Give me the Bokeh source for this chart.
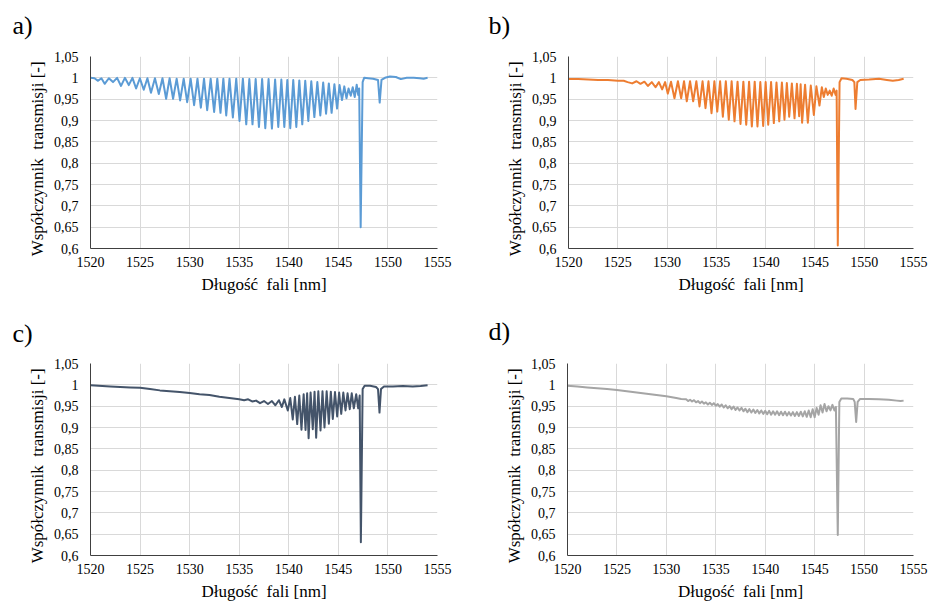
from bokeh.plotting import figure
from bokeh.layouts import column, row
from bokeh.models import Range1d, FixedTicker, Title
from bokeh.embed import file_html
from bokeh.resources import INLINE

# ---------------- data ----------------
x_ticks = [1520, 1525, 1530, 1535, 1540, 1545, 1550, 1555]
y_ticks = [0.6, 0.65, 0.7, 0.75, 0.8, 0.85, 0.9, 0.95, 1.0, 1.05]
y_tick_labels = ["0,6", "0,65", "0,7", "0,75", "0,8", "0,85", "0,9", "0,95", "1", "1,05"]
x_title = "Długość\u00a0 fali [nm]"
y_title = "Współczynnik\u00a0 transmisji [-]\u00a0\u00a0\u00a0"
panel_labels = ["a)", "b)", "c)", "d)"]

a_nm = [1520.0, 1520.4, 1520.76, 1521.1, 1521.43, 1521.85, 1522.27, 1522.68, 1523.08, 1523.47,
        1523.86, 1524.23, 1524.6, 1524.98, 1525.37, 1525.74, 1526.1, 1526.5, 1526.89, 1527.26,
        1527.63, 1527.98, 1528.33, 1528.69, 1529.04, 1529.4, 1529.75, 1530.1, 1530.45, 1530.79,
        1531.13, 1531.45, 1531.77, 1532.12, 1532.47, 1532.79, 1533.11, 1533.4, 1533.69, 1534.02,
        1534.36, 1534.7, 1535.03, 1535.37, 1535.71, 1536.02, 1536.34, 1536.66, 1536.99, 1537.31,
        1537.63, 1537.96, 1538.3, 1538.62, 1538.94, 1539.25, 1539.55, 1539.85, 1540.15, 1540.45,
        1540.76, 1541.06, 1541.36, 1541.66, 1541.97, 1542.27, 1542.58, 1542.88, 1543.18, 1543.47,
        1543.76, 1544.04, 1544.32, 1544.6, 1544.87, 1545.12, 1545.37, 1545.6, 1545.82, 1546.03,
        1546.25, 1546.45, 1546.65, 1546.85, 1547.0, 1547.1, 1547.25, 1547.45, 1547.6, 1548.0,
        1548.5, 1549.0, 1549.17, 1549.35, 1549.7, 1550.2, 1550.8, 1551.3, 1551.9, 1552.6,
        1553.2, 1553.6, 1554.0]
a_T = [1.0, 0.999, 0.993, 0.999, 0.986, 0.999, 0.99, 1.0, 0.981, 1.0,
       0.983, 1.0, 0.975, 0.999, 0.972, 0.999, 0.965, 0.999, 0.962, 0.999,
       0.951, 0.999, 0.951, 0.998, 0.947, 0.998, 0.943, 0.998, 0.936, 0.998,
       0.93, 0.998, 0.924, 0.998, 0.92, 0.998, 0.918, 0.998, 0.912, 0.998,
       0.907, 0.998, 0.899, 0.998, 0.891, 0.997, 0.891, 0.997, 0.885, 0.997,
       0.882, 0.997, 0.881, 0.996, 0.885, 0.996, 0.885, 0.995, 0.882, 0.995,
       0.885, 0.994, 0.891, 0.993, 0.899, 0.992, 0.908, 0.99, 0.912, 0.989,
       0.916, 0.987, 0.918, 0.985, 0.928, 0.983, 0.948, 0.98, 0.952, 0.975,
       0.958, 0.978, 0.955, 0.984, 0.96, 0.975, 0.65, 0.99, 1.0, 0.999,
       0.998, 0.995, 0.942, 0.995, 1.0, 1.003, 1.002, 0.997, 1.0, 1.0,
       0.999, 0.998, 1.0]

b_nm = [1520.0, 1521.0, 1522.0, 1523.0, 1524.0, 1525.0, 1525.6, 1526.0, 1526.46, 1526.9,
        1527.3, 1527.7, 1528.05, 1528.45, 1528.83, 1529.17, 1529.5, 1529.8, 1530.07, 1530.4,
        1530.75, 1531.1, 1531.43, 1531.72, 1532.0, 1532.33, 1532.65, 1532.97, 1533.29, 1533.6,
        1533.9, 1534.2, 1534.51, 1534.8, 1535.09, 1535.38, 1535.66, 1535.96, 1536.26, 1536.55,
        1536.84, 1537.15, 1537.45, 1537.74, 1538.03, 1538.32, 1538.6, 1538.89, 1539.17, 1539.46,
        1539.75, 1540.0, 1540.26, 1540.55, 1540.83, 1541.1, 1541.38, 1541.65, 1541.91, 1542.15,
        1542.39, 1542.66, 1542.93, 1543.17, 1543.4, 1543.55, 1543.7, 1544.0, 1544.28, 1544.58,
        1544.89, 1545.15, 1545.46, 1545.7, 1545.9, 1546.1, 1546.3, 1546.5, 1546.7, 1546.9,
        1547.1, 1547.2, 1547.32, 1547.5, 1547.7, 1548.2, 1548.8, 1549.0, 1549.12, 1549.3,
        1549.6, 1550.5, 1551.5, 1552.3, 1552.9, 1553.5, 1554.0]
b_T = [0.997, 0.997, 0.996, 0.995, 0.995, 0.993, 0.993, 0.99, 0.987, 0.992,
       0.986, 0.991, 0.981, 0.99, 0.978, 0.99, 0.973, 0.99, 0.963, 0.991,
       0.952, 0.992, 0.952, 0.992, 0.945, 0.992, 0.945, 0.992, 0.933, 0.992,
       0.929, 0.992, 0.917, 0.992, 0.921, 0.992, 0.909, 0.992, 0.902, 0.992,
       0.898, 0.991, 0.892, 0.991, 0.89, 0.991, 0.886, 0.991, 0.886, 0.99,
       0.887, 0.99, 0.89, 0.99, 0.894, 0.989, 0.898, 0.989, 0.902, 0.988,
       0.909, 0.987, 0.905, 0.986, 0.91, 0.985, 0.895, 0.984, 0.895, 0.982,
       0.913, 0.98, 0.935, 0.978, 0.955, 0.975, 0.96, 0.97, 0.958, 0.975,
       0.96, 0.97, 0.607, 0.99, 0.999, 0.998, 0.995, 0.99, 0.927, 0.99,
       0.995, 0.996, 0.998, 0.995, 0.993, 0.995, 0.998]

c_nm = [1520.0, 1522.0, 1524.0, 1525.0, 1526.0, 1527.0, 1528.0, 1529.0, 1530.0, 1531.0,
        1532.0, 1533.0, 1534.0, 1535.0, 1535.5, 1535.9, 1536.3, 1536.7, 1537.1, 1537.5,
        1537.9, 1538.3, 1538.65, 1539.0, 1539.3, 1539.55, 1539.9, 1540.15, 1540.4, 1540.62,
        1540.85, 1541.06, 1541.28, 1541.5, 1541.69, 1541.85, 1542.0, 1542.2, 1542.42, 1542.6,
        1542.76, 1542.98, 1543.2, 1543.4, 1543.6, 1543.82, 1544.04, 1544.24, 1544.44, 1544.66,
        1544.88, 1545.08, 1545.29, 1545.5, 1545.72, 1545.93, 1546.15, 1546.35, 1546.56, 1546.8,
        1547.0, 1547.15, 1547.27, 1547.45, 1547.65, 1548.2, 1548.8, 1549.0, 1549.15, 1549.3,
        1549.6, 1550.5, 1551.5, 1552.5, 1553.3, 1554.0]
c_T = [0.999, 0.996, 0.994, 0.993, 0.99, 0.987, 0.985, 0.983, 0.981, 0.978,
       0.976, 0.972, 0.969, 0.966, 0.964, 0.966, 0.961, 0.963, 0.957, 0.962,
       0.955, 0.962, 0.952, 0.964, 0.948, 0.966, 0.94, 0.969, 0.919, 0.972,
       0.908, 0.975, 0.895, 0.978, 0.894, 0.98, 0.875, 0.982, 0.896, 0.984,
       0.876, 0.985, 0.893, 0.985, 0.9, 0.985, 0.909, 0.984, 0.92, 0.983,
       0.926, 0.982, 0.932, 0.982, 0.94, 0.98, 0.943, 0.98, 0.945, 0.978,
       0.945, 0.975, 0.631, 0.99, 0.998, 0.998, 0.995, 0.99, 0.935, 0.99,
       0.996, 0.996, 0.997, 0.996, 0.997, 0.999]

d_nm = [1520.0, 1521.0, 1522.0, 1523.0, 1524.0, 1525.0, 1526.0, 1527.0, 1528.0, 1529.0,
        1530.0, 1531.0, 1531.5,
        1532.0, 1532.2, 1532.4, 1532.6, 1532.8, 1533.0, 1533.2, 1533.4, 1533.6, 1533.8,
        1534.0, 1534.2, 1534.4, 1534.6, 1534.8, 1535.0, 1535.2, 1535.4, 1535.6, 1535.8,
        1536.0, 1536.2, 1536.4, 1536.6, 1536.8, 1537.0, 1537.2, 1537.4, 1537.6, 1537.8,
        1538.0, 1538.2, 1538.4, 1538.6, 1538.8, 1539.0, 1539.2, 1539.4, 1539.6, 1539.8,
        1540.0, 1540.2, 1540.4, 1540.6, 1540.8, 1541.0, 1541.2, 1541.4, 1541.6, 1541.8,
        1542.0, 1542.2, 1542.4, 1542.6, 1542.8, 1543.0, 1543.2, 1543.4, 1543.6, 1543.8,
        1544.0, 1544.2, 1544.4, 1544.6, 1544.8, 1545.0, 1545.2, 1545.4, 1545.6, 1545.8,
        1546.0, 1546.2, 1546.4, 1546.6, 1546.8, 1547.0,
        1547.15, 1547.34, 1547.5, 1547.7, 1548.3, 1548.9, 1549.05, 1549.2, 1549.35, 1549.6,
        1550.5, 1551.5, 1552.5, 1553.3, 1553.7, 1554.0]
d_T = [0.998, 0.996, 0.994, 0.992, 0.99, 0.988, 0.985, 0.982, 0.979, 0.976,
       0.973, 0.969, 0.967,
       0.966, 0.962, 0.965, 0.961, 0.964, 0.959, 0.962, 0.957, 0.961, 0.956,
       0.959, 0.954, 0.958, 0.953, 0.957, 0.951, 0.955, 0.949, 0.954, 0.947,
       0.952, 0.945, 0.95, 0.943, 0.949, 0.941, 0.947, 0.94, 0.946, 0.938,
       0.944, 0.936, 0.943, 0.935, 0.942, 0.934, 0.941, 0.933, 0.94, 0.932,
       0.939, 0.931, 0.939, 0.93, 0.938, 0.93, 0.938, 0.929, 0.937, 0.929,
       0.937, 0.928, 0.936, 0.928, 0.936, 0.927, 0.936, 0.927, 0.937, 0.926,
       0.938, 0.925, 0.94, 0.924, 0.943, 0.924, 0.946, 0.93, 0.952, 0.935,
       0.955, 0.938, 0.95, 0.94, 0.953, 0.94,
       0.948, 0.648, 0.96, 0.968, 0.968, 0.967, 0.96, 0.913, 0.96, 0.967,
       0.967, 0.966, 0.965, 0.963, 0.962, 0.963]

series_colors = ["#5B9BD5", "#ED7D31", "#44546A", "#A5A5A5"]

assert len(a_nm) == len(a_T) and len(b_nm) == len(b_T)
assert len(c_nm) == len(c_T) and len(d_nm) == len(d_T)

FONT = "Liberation Serif"


def make_panel(nm, T, color, label, w, h, bl, br, bt, bb, lab_offset, gap):
    p = figure(width=w, height=h, x_range=Range1d(1520, 1555), y_range=Range1d(0.6, 1.05),
               output_backend="svg", toolbar_location=None,
               min_border_left=bl, min_border_right=br, min_border_top=bt, min_border_bottom=bb)
    p.outline_line_color = None
    p.background_fill_color = "white"
    p.border_fill_color = "white"

    p.xaxis.ticker = FixedTicker(ticks=x_ticks)
    p.yaxis.ticker = FixedTicker(ticks=y_ticks)
    p.xgrid.ticker = FixedTicker(ticks=x_ticks)
    p.ygrid.ticker = FixedTicker(ticks=y_ticks)
    p.yaxis.major_label_overrides = dict(zip(y_ticks, y_tick_labels))
    for g in (p.xgrid, p.ygrid):
        g.grid_line_color = "#d9d9d9"
        g.grid_line_width = 1

    for ax in (p.xaxis, p.yaxis):
        ax.major_tick_out = 0
        ax.major_tick_in = 0
        ax.minor_tick_out = 0
        ax.minor_tick_in = 0
        ax.axis_line_color = "#404040"
        ax.axis_line_width = 1
        ax.major_label_text_font = FONT
        ax.major_label_text_font_size = "14px"
        ax.major_label_text_color = "#000000"
        ax.axis_label_text_font = FONT
        ax.axis_label_text_font_style = "normal"
        ax.axis_label_text_color = "#000000"

    p.xaxis.axis_label = x_title
    p.yaxis.axis_label = y_title
    p.xaxis.axis_label_text_font_size = "17px"
    p.yaxis.axis_label_text_font_size = "17px"
    p.xaxis.major_label_standoff = 8
    p.xaxis.axis_label_standoff = 5
    p.yaxis.major_label_standoff = 12
    p.yaxis.axis_label_standoff = 4

    p.line(nm, T, line_color=color, line_width=2, line_join="round")

    # thin spacer between the frame and the panel letter
    p.add_layout(Title(text="\u00a0", text_font_size="1px", standoff=gap), "above")

    # panel letter, drawn as the plot title
    p.title.text = label
    p.title.align = "left"
    p.title.offset = lab_offset
    p.title.standoff = 0
    p.title.vertical_align = "bottom"
    p.title.text_font = FONT
    p.title.text_font_size = "26px"
    p.title.text_font_style = "normal"
    p.title.text_color = "#000000"
    return p


pa = make_panel(a_nm, a_T, series_colors[0], panel_labels[0], 465, 302, 90, 28, 56, 53, -78, 14)
pb = make_panel(b_nm, b_T, series_colors[1], panel_labels[1], 465, 302, 103, 17, 56, 54, -80, 14)
pc = make_panel(c_nm, c_T, series_colors[2], panel_labels[2], 465, 302, 90, 28, 61, 49, -78, 13)
pd = make_panel(d_nm, d_T, series_colors[3], panel_labels[3], 465, 302, 102, 17, 61, 49, -79, 15)

layout = column(row(pa, pb), row(pc, pd))
open("out.html", "w").write(file_html(layout, INLINE))
